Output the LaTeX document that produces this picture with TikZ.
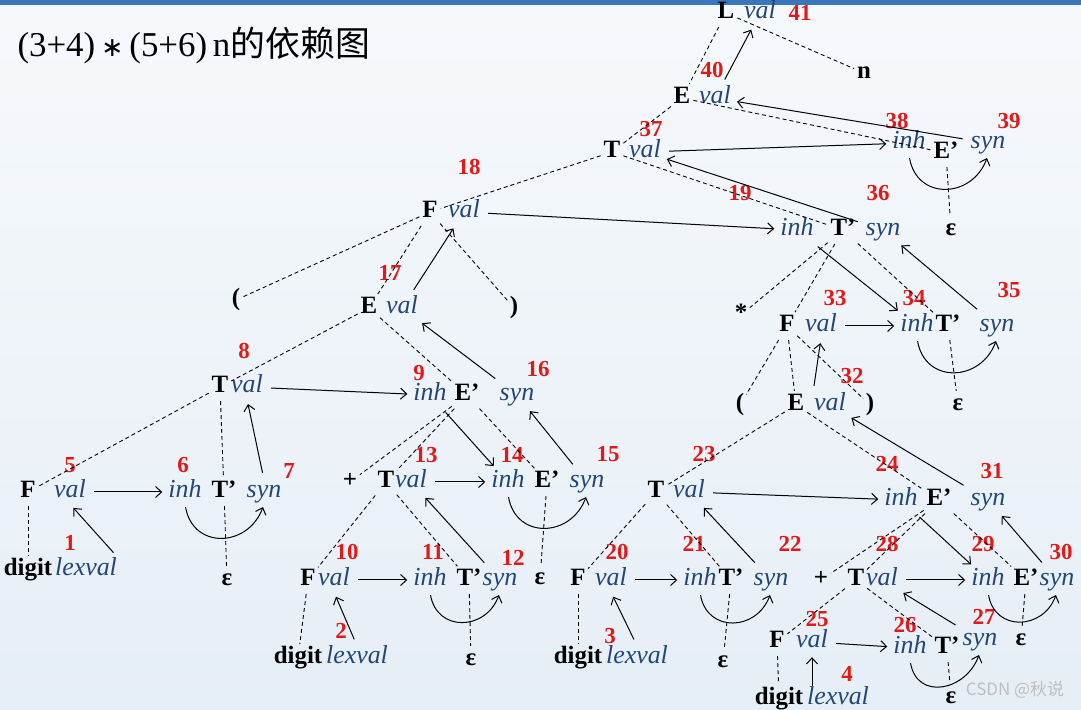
\documentclass[tikz,border=0pt]{standalone}
\usepackage{fontspec}
\setmainfont{Liberation Serif}
\newfontfamily\cjkfont{Noto Sans CJK SC}
\newfontfamily\opfont{DejaVu Sans}
\usetikzlibrary{arrows.meta,calc}
\definecolor{attrcol}{RGB}{35,70,120}
\definecolor{numcol}{RGB}{225,25,25}
\definecolor{bgtop}{RGB}{246,249,252}
\definecolor{bgbot}{RGB}{230,238,246}
\definecolor{barcol}{RGB}{58,118,186}
\definecolor{markcol}{RGB}{190,190,190}

\begin{document}
\begin{tikzpicture}[>={Straight Barb[length=6bp,width=11bp]},line join=bevel,
  sym/.style={font=\fontsize{25}{27}\selectfont\bfseries,inner sep=1bp,text height=17bp,text depth=5bp},
  attr/.style={font=\fontsize{26}{28}\selectfont\itshape,text=attrcol,inner sep=1bp,text height=17bp,text depth=5bp},
  num/.style={font=\fontsize{23}{25}\selectfont\bfseries,text=numcol,inner sep=0bp},
  tree/.style={dash pattern=on 4bp off 3bp,line width=0.9bp,shorten <=2bp,shorten >=2bp},
  dep/.style={->,line width=1bp,shorten <=7bp,shorten >=5bp},
  under/.style={->,line width=1bp,shorten <=3bp,shorten >=3bp,out=-80,in=-110,looseness=1.5},
]
%% background
\shade [top color=bgtop,bottom color=bgbot] (0bp,0bp) rectangle (1081bp,710bp);
\fill [barcol] (0bp,705bp) rectangle (1081bp,710bp);
\useasboundingbox (0bp,0bp) rectangle (1081bp,710bp);
\node (title) at (14bp,664bp) [anchor=west,font=\fontsize{35}{37}\selectfont] {(3+4)\,{\opfont\fontsize{27}{27}\selectfont ∗}\,(5+6)\,n{\cjkfont 的依赖图}};
\node (wmark) at (1015bp,20bp) [font=\cjkfont\fontsize{17}{19}\selectfont,text=markcol] {CSDN @秋说};
%% grammar symbols
  \node (L) at (726bp,697bp) [sym] {L};
  \node (n) at (864bp,637bp) [sym] {n};
  \node (E40) at (682bp,612bp) [sym] {E};
  \node (T37) at (612bp,558bp) [sym] {T};
  \node (Ep39) at (946bp,557bp) [sym] {E’};
  \node (eps39) at (951bp,480bp) [sym] {ε};
  \node (F18) at (430bp,498bp) [sym] {F};
  \node (Tp36) at (843bp,480bp) [sym] {T’};
  \node (lpA) at (236bp,410bp) [sym] {(};
  \node (E17) at (369bp,402bp) [sym] {E};
  \node (rpA) at (514bp,402bp) [sym] {)};
  \node (star) at (741bp,395bp) [sym] {*};
  \node (F33) at (787bp,384bp) [sym] {F};
  \node (Tp35) at (948bp,384bp) [sym] {T’};
  \node (eps35) at (958bp,305bp) [sym] {ε};
  \node (lpB) at (740bp,305bp) [sym] {(};
  \node (E32) at (796bp,305bp) [sym] {E};
  \node (rpB) at (870bp,305bp) [sym] {)};
  \node (T8) at (220bp,323bp) [sym] {T};
  \node (Ep16) at (467bp,315bp) [sym] {E’};
  \node (F5) at (28bp,218bp) [sym] {F};
  \node (Tp7) at (224bp,218bp) [sym] {T’};
  \node (eps7) at (227bp,130bp) [sym] {ε};
  \node (dig1) at (28bp,140bp) [sym] {digit};
  \node (plusA) at (350bp,228bp) [sym] {+};
  \node (T13) at (386bp,228bp) [sym] {T};
  \node (Ep15) at (547bp,228bp) [sym] {E’};
  \node (eps15) at (540bp,131bp) [sym] {ε};
  \node (F10) at (308bp,130bp) [sym] {F};
  \node (Tp12) at (469bp,130bp) [sym] {T’};
  \node (eps12) at (471bp,50bp) [sym] {ε};
  \node (dig2) at (298bp,52bp) [sym] {digit};
  \node (T23) at (656bp,218bp) [sym] {T};
  \node (Ep31) at (939bp,210bp) [sym] {E’};
  \node (F20) at (578bp,130bp) [sym] {F};
  \node (Tp22) at (731bp,130bp) [sym] {T’};
  \node (eps22) at (723bp,48bp) [sym] {ε};
  \node (dig3) at (578bp,52bp) [sym] {digit};
  \node (plusB) at (821bp,130bp) [sym] {+};
  \node (T28) at (856bp,130bp) [sym] {T};
  \node (Ep30) at (1026bp,130bp) [sym] {E’};
  \node (eps30) at (1021bp,70bp) [sym] {ε};
  \node (F25) at (777bp,68bp) [sym] {F};
  \node (Tp27) at (947bp,62bp) [sym] {T’};
  \node (eps27) at (951bp,13bp) [sym] {ε};
  \node (dig4) at (779bp,12bp) [sym] {digit};
%% attributes
  \node (a1) at (86bp,140bp) [attr] {lexval};
  \node (a2) at (357bp,52bp) [attr] {lexval};
  \node (a3) at (637bp,52bp) [attr] {lexval};
  \node (a4) at (838bp,12bp) [attr] {lexval};
  \node (a5) at (70bp,218bp) [attr] {val};
  \node (a6) at (185bp,218bp) [attr] {inh};
  \node (a7) at (264bp,218bp) [attr] {syn};
  \node (a8) at (247bp,323bp) [attr] {val};
  \node (a9) at (430bp,315bp) [attr] {inh};
  \node (a10) at (334bp,130bp) [attr] {val};
  \node (a11) at (430bp,130bp) [attr] {inh};
  \node (a12) at (500bp,130bp) [attr] {syn};
  \node (a13) at (411bp,228bp) [attr] {val};
  \node (a14) at (508bp,228bp) [attr] {inh};
  \node (a15) at (587bp,228bp) [attr] {syn};
  \node (a16) at (517bp,315bp) [attr] {syn};
  \node (a17) at (402bp,402bp) [attr] {val};
  \node (a18) at (464bp,498bp) [attr] {val};
  \node (a19) at (797bp,480bp) [attr] {inh};
  \node (a20) at (611bp,130bp) [attr] {val};
  \node (a21) at (700bp,130bp) [attr] {inh};
  \node (a22) at (771bp,130bp) [attr] {syn};
  \node (a23) at (689bp,218bp) [attr] {val};
  \node (a24) at (901bp,210bp) [attr] {inh};
  \node (a25) at (812bp,68bp) [attr] {val};
  \node (a26) at (910bp,62bp) [attr] {inh};
  \node (a27) at (980bp,70bp) [attr] {syn};
  \node (a28) at (882bp,130bp) [attr] {val};
  \node (a29) at (988bp,130bp) [attr] {inh};
  \node (a30) at (1057bp,130bp) [attr] {syn};
  \node (a31) at (988bp,210bp) [attr] {syn};
  \node (a32) at (830bp,305bp) [attr] {val};
  \node (a33) at (821bp,384bp) [attr] {val};
  \node (a34) at (917bp,384bp) [attr] {inh};
  \node (a35) at (997bp,384bp) [attr] {syn};
  \node (a36) at (883bp,480bp) [attr] {syn};
  \node (a37) at (645bp,558bp) [attr] {val};
  \node (a38) at (909bp,567bp) [attr] {inh};
  \node (a39) at (988bp,567bp) [attr] {syn};
  \node (a40) at (715bp,612bp) [attr] {val};
  \node (a41) at (760bp,697bp) [attr] {val};
%% evaluation order
  \node (n1) at (70bp,167bp) [num] {1};
  \node (n2) at (341bp,79bp) [num] {2};
  \node (n3) at (610bp,74bp) [num] {3};
  \node (n4) at (847bp,36bp) [num] {4};
  \node (n5) at (70bp,245bp) [num] {5};
  \node (n6) at (183bp,245bp) [num] {6};
  \node (n7) at (289bp,239bp) [num] {7};
  \node (n8) at (244bp,359bp) [num] {8};
  \node (n9) at (419bp,337bp) [num] {9};
  \node (n10) at (347bp,158bp) [num] {10};
  \node (n11) at (433bp,158bp) [num] {11};
  \node (n12) at (513bp,152bp) [num] {12};
  \node (n13) at (426bp,255bp) [num] {13};
  \node (n14) at (512bp,255bp) [num] {14};
  \node (n15) at (608bp,256bp) [num] {15};
  \node (n16) at (538bp,341bp) [num] {16};
  \node (n17) at (390bp,437bp) [num] {17};
  \node (n18) at (469bp,543bp) [num] {18};
  \node (n19) at (740bp,517bp) [num] {19};
  \node (n20) at (617bp,158bp) [num] {20};
  \node (n21) at (694bp,166bp) [num] {21};
  \node (n22) at (790bp,166bp) [num] {22};
  \node (n23) at (704bp,256bp) [num] {23};
  \node (n24) at (887bp,246bp) [num] {24};
  \node (n25) at (817bp,91bp) [num] {25};
  \node (n26) at (905bp,85bp) [num] {26};
  \node (n27) at (984bp,93bp) [num] {27};
  \node (n28) at (887bp,166bp) [num] {28};
  \node (n29) at (983bp,166bp) [num] {29};
  \node (n30) at (1061bp,158bp) [num] {30};
  \node (n31) at (992bp,239bp) [num] {31};
  \node (n32) at (852bp,334bp) [num] {32};
  \node (n33) at (835bp,412bp) [num] {33};
  \node (n34) at (914bp,412bp) [num] {34};
  \node (n35) at (1009bp,420bp) [num] {35};
  \node (n36) at (878bp,517bp) [num] {36};
  \node (n37) at (651bp,581bp) [num] {37};
  \node (n38) at (897bp,589bp) [num] {38};
  \node (n39) at (1009bp,589bp) [num] {39};
  \node (n40) at (712bp,640bp) [num] {40};
  \node (n41) at (800bp,697bp) [num] {41};
%% parse tree
  \draw [tree] (L) -- (E40);
  \draw [tree] (L) -- (n);
  \draw [tree] (E40) -- (T37);
  \draw [tree] (E40) -- (Ep39);
  \draw [tree] (Ep39) -- (eps39);
  \draw [tree] (T37) -- (F18);
  \draw [tree] (T37) -- (Tp36);
  \draw [tree] (F18) -- (lpA);
  \draw [tree] (F18) -- (E17);
  \draw [tree] (F18) -- (rpA);
  \draw [tree] (E17) -- (T8);
  \draw [tree] (E17) -- (Ep16);
  \draw [tree] (T8) -- (F5);
  \draw [tree] (T8) -- (Tp7);
  \draw [tree] (F5) -- (dig1);
  \draw [tree] (Tp7) -- (eps7);
  \draw [tree] (Ep16) -- (plusA);
  \draw [tree] (Ep16) -- (T13);
  \draw [tree] (Ep16) -- (Ep15);
  \draw [tree] (Ep15) -- (eps15);
  \draw [tree] (T13) -- (F10);
  \draw [tree] (T13) -- (Tp12);
  \draw [tree] (F10) -- (dig2);
  \draw [tree] (Tp12) -- (eps12);
  \draw [tree] (Tp36) -- (star);
  \draw [tree] (Tp36) -- (F33);
  \draw [tree] (Tp36) -- (Tp35);
  \draw [tree] (Tp35) -- (eps35);
  \draw [tree] (F33) -- (lpB);
  \draw [tree] (F33) -- (E32);
  \draw [tree] (F33) -- (rpB);
  \draw [tree] (E32) -- (T23);
  \draw [tree] (E32) -- (Ep31);
  \draw [tree] (T23) -- (F20);
  \draw [tree] (T23) -- (Tp22);
  \draw [tree] (F20) -- (dig3);
  \draw [tree] (Tp22) -- (eps22);
  \draw [tree] (Ep31) -- (plusB);
  \draw [tree] (Ep31) -- (T28);
  \draw [tree] (Ep31) -- (Ep30);
  \draw [tree] (Ep30) -- (eps30);
  \draw [tree] (T28) -- (F25);
  \draw [tree] (T28) -- (Tp27);
  \draw [tree] (F25) -- (dig4);
  \draw [tree] (Tp27) -- (eps27);
%% dependencies
  \draw [dep] (a1.north east) -- (a5.south);
  \draw [dep] (a5) -- (a6);
  \draw [under] (a6.south) to (a7.south);
  \draw [dep] (a7.north) -- (a8.south);
  \draw [dep] (a8) -- (a9);
  \draw [dep] (a2.north) -- (a10.south);
  \draw [dep] (a10) -- (a11);
  \draw [under] (a11.south) to (a12.south);
  \draw [dep] (a12) -- (a13);
  \draw [dep] (a13) -- (a14);
  \draw [dep] (a9) -- (a14);
  \draw [under] (a14.south) to (a15.south);
  \draw [dep] (a15) -- (a16);
  \draw [dep] (a16) -- (a17);
  \draw [dep] (a17) -- (a18);
  \draw [dep] (a18) -- (a19);
  \draw [dep] (a3.north) -- (a20.south);
  \draw [dep] (a20) -- (a21);
  \draw [under] (a21.south) to (a22.south);
  \draw [dep] (a22) -- (a23);
  \draw [dep] (a23) -- (a24);
  \draw [->,line width=1bp,shorten >=3bp] (a4.north -| a25) -- (a25);
  \draw [dep] (a25) -- (a26);
  \draw [under] (a26.south) to (a27.south);
  \draw [dep] (a27) -- (a28);
  \draw [dep] (a28) -- (a29);
  \draw [dep] (a24) -- (a29);
  \draw [under] (a29.south) to (a30.south);
  \draw [dep] (a30) -- (a31);
  \draw [dep] (a31) -- (a32);
  \draw [dep] (a32.north west) -- (a33.south);
  \draw [dep] (a33) -- (a34);
  \draw [dep] (a19) -- (a34);
  \draw [under] (a34.south) to (a35.south);
  \draw [dep] (a35) -- (a36);
  \draw [dep] (a36) -- (a37);
  \draw [dep] (a37) -- (a38);
  \draw [under] (a38.south) to (a39.south);
  \draw [dep] (a39) -- (a40);
  \draw [dep] (a40) -- (a41);
%
\end{tikzpicture}
\end{document}
